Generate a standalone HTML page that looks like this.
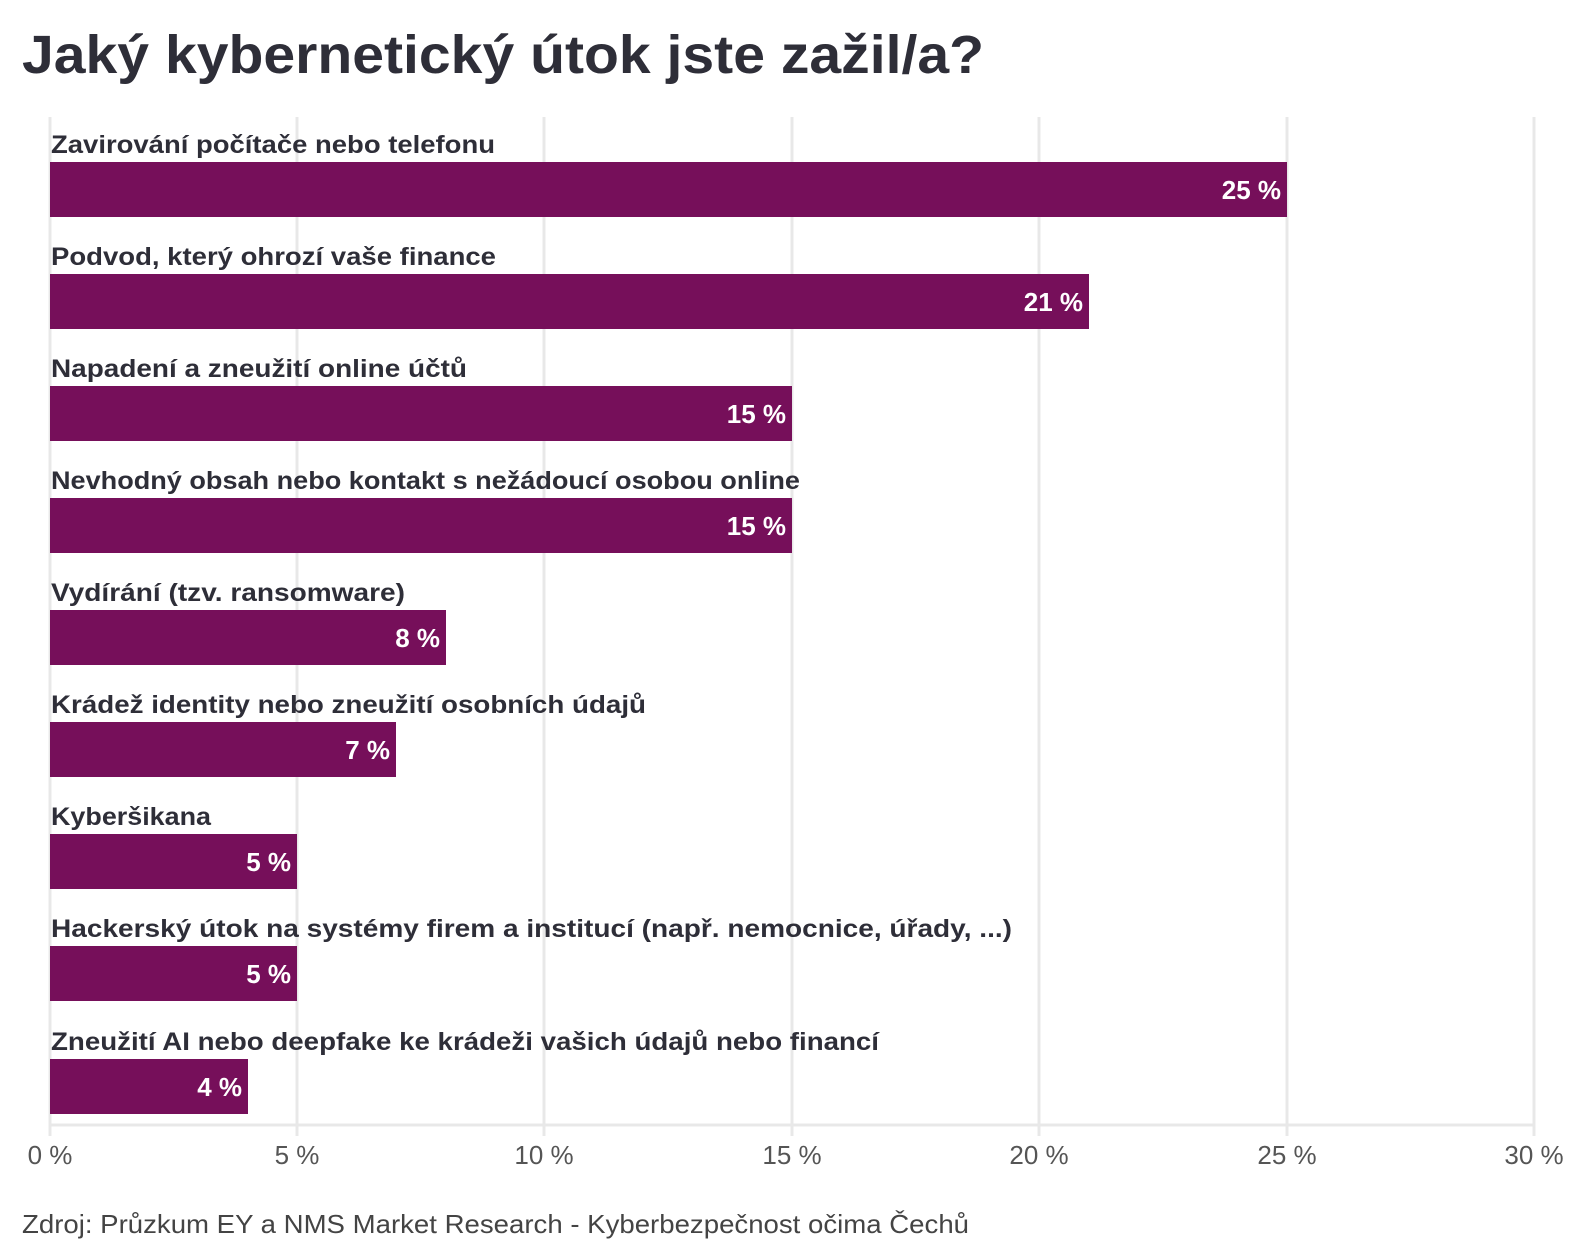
<!DOCTYPE html>
<html><head><meta charset="utf-8"><style>
html,body{margin:0;padding:0;background:#fff;}
svg{display:block;}
</style></head><body>
<svg width="1590" height="1258" xmlns="http://www.w3.org/2000/svg" font-family="'Liberation Sans', sans-serif">
<text x="22" y="73" font-size="54" font-weight="bold" fill="#2e2e38" textLength="962" lengthAdjust="spacingAndGlyphs">Jaký kybernetický útok jste zažil/a?</text>
<g stroke="#e8e8e8" stroke-width="3">
<line x1="50" y1="117" x2="50" y2="1136"/>
<line x1="297" y1="117" x2="297" y2="1136"/>
<line x1="544" y1="117" x2="544" y2="1136"/>
<line x1="792" y1="117" x2="792" y2="1136"/>
<line x1="1039" y1="117" x2="1039" y2="1136"/>
<line x1="1287" y1="117" x2="1287" y2="1136"/>
<line x1="1534" y1="117" x2="1534" y2="1136"/>
<line x1="50" y1="1125" x2="1534" y2="1125"/>
</g>
<g fill="#760f5a">
<rect x="50" y="162" width="1237" height="55"/>
<rect x="50" y="274" width="1039" height="55"/>
<rect x="50" y="386" width="742" height="55"/>
<rect x="50" y="498" width="742" height="55"/>
<rect x="50" y="610" width="396" height="55"/>
<rect x="50" y="722" width="346" height="55"/>
<rect x="50" y="834" width="247" height="55"/>
<rect x="50" y="946" width="247" height="55"/>
<rect x="50" y="1059" width="198" height="55"/>
</g>
<g font-size="25" font-weight="bold" fill="#2e2e38">
<text x="51" y="153" textLength="444" lengthAdjust="spacingAndGlyphs">Zavirování počítače nebo telefonu</text>
<text x="51" y="265" textLength="445" lengthAdjust="spacingAndGlyphs">Podvod, který ohrozí vaše finance</text>
<text x="51" y="377" textLength="416" lengthAdjust="spacingAndGlyphs">Napadení a zneužití online účtů</text>
<text x="51" y="489" textLength="749" lengthAdjust="spacingAndGlyphs">Nevhodný obsah nebo kontakt s nežádoucí osobou online</text>
<text x="51" y="601" textLength="354" lengthAdjust="spacingAndGlyphs">Vydírání (tzv. ransomware)</text>
<text x="51" y="713" textLength="595" lengthAdjust="spacingAndGlyphs">Krádež identity nebo zneužití osobních údajů</text>
<text x="51" y="825" textLength="160" lengthAdjust="spacingAndGlyphs">Kyberšikana</text>
<text x="51" y="937" textLength="961" lengthAdjust="spacingAndGlyphs">Hackerský útok na systémy firem a institucí (např. nemocnice, úřady, ...)</text>
<text x="51" y="1050" textLength="828" lengthAdjust="spacingAndGlyphs">Zneužití AI nebo deepfake ke krádeži vašich údajů nebo financí</text>
</g>
<g font-size="26" font-weight="bold" fill="#fff" text-anchor="end">
<text x="1281" y="199">25 %</text>
<text x="1083" y="311">21 %</text>
<text x="786" y="423">15 %</text>
<text x="786" y="535">15 %</text>
<text x="440" y="647">8 %</text>
<text x="390" y="759">7 %</text>
<text x="291" y="871">5 %</text>
<text x="291" y="983">5 %</text>
<text x="242" y="1096">4 %</text>
</g>
<g font-size="26" fill="#555" text-anchor="middle">
<text x="50" y="1164">0 %</text>
<text x="297" y="1164">5 %</text>
<text x="544" y="1164">10 %</text>
<text x="792" y="1164">15 %</text>
<text x="1039" y="1164">20 %</text>
<text x="1287" y="1164">25 %</text>
<text x="1534" y="1164">30 %</text>
</g>
<text x="22" y="1233" font-size="26" fill="#444" textLength="947" lengthAdjust="spacingAndGlyphs">Zdroj: Průzkum EY a NMS Market Research - Kyberbezpečnost očima Čechů</text>
</svg>
</body></html>
